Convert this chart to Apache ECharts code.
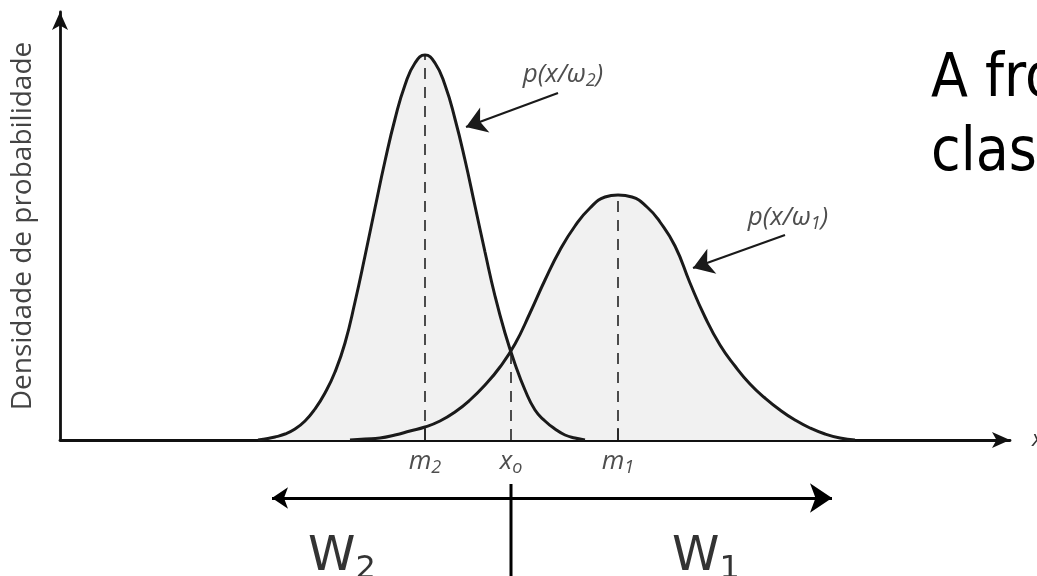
<!DOCTYPE html>
<html>
<head>
<meta charset="utf-8">
<script src="https://cdn.jsdelivr.net/npm/echarts@6/dist/echarts.min.js"></script>
<style>
  html, body { margin: 0; padding: 0; background: #fff; }
  #chart { width: 1037px; height: 576px; }
</style>
</head>
<body>
<div id="chart"></div>
<script>
// Class-conditional densities, [x, density] in axis units
const densityW2 = [[198,0],[205,1],[215,3],[225,6],[235,11],[245,19],[255,31],[265,47],[275,68],[285,97],[295,138],[305,184],[315,232],[325,279],[335,321],[345,355],[355,377],[365,385],[375,377],[385,355],[395,321],[405,280],[415,234],[425,188],[435,144],[445,107],[455,76],[465,50],[475,30],[485,19],[495,11],[505,5],[515,2],[525,0]];
const densityW1 = [[290,0],[305,1],[320,2],[335,5],[350,9],[365,13],[380,19],[395,28],[410,40],[425,55],[440,73],[455,96],[470,127],[485,160],[500,190],[515,214],[530,232],[545,243],[558,245],[572,243],[587,233],[600,218],[615,194],[630,157],[645,123],[660,95],[675,74],[690,56],[705,42],[720,30],[735,20],[750,12],[765,6],[780,2],[795,0]];

// Means and decision threshold on the x axis
const markerLabels = ['{v|m}{s|2}', '{v|x}{s|o}', '{v|m}{s|1}'];
const markerX = [365, 451, 558];
const markerTop = [385, 90, 245];

// Curve annotations
const noteLabels = ['{v|p(x/ω}{s|2}{v|)}', '{v|p(x/ω}{s|1}{v|)}'];
const noteAt = [[503, 365], [728, 222]];
const noteFrom = [[498, 347], [725, 205]];
const noteTo = [[406, 313], [633, 172]];

// Decision regions below the axis
const regionLabels = ['{v|W}{s|2}', '{v|W}{s|1}'];
const regionX = [282, 646];
const regionSpan = [212, 772];
const boundaryX = 451;

const X_MAX = 950, Y_MAX = 428;
const ink = '#1a1a1a';

const italicRich = {
  v: { fontFamily: 'Open Sans', fontStyle: 'italic', fontSize: 26, color: '#222', lineHeight: 30 },
  s: { fontFamily: 'Open Sans', fontStyle: 'italic', fontSize: 18, color: '#222', lineHeight: 16, verticalAlign: 'bottom' }
};
const regionRich = {
  v: { fontFamily: 'DejaVu Sans', fontSize: 48, color: '#000', lineHeight: 56 },
  s: { fontFamily: 'DejaVu Sans', fontSize: 32, color: '#000', lineHeight: 30, verticalAlign: 'bottom' }
};

const series = [];

// shaded areas under both curves
[densityW2, densityW1].forEach(d => series.push({
  type: 'line', xAxisIndex: 0, yAxisIndex: 0, data: d, smooth: 0.5,
  symbol: 'none', lineStyle: { width: 0 }, areaStyle: { color: '#f1f1f1', opacity: 1 }, z: 1, silent: true
}));

// dashed verticals at m2, xo, m1 plus short solid ticks at the means
markerX.forEach((x, i) => {
  series.push({
    type: 'line', xAxisIndex: 0, yAxisIndex: 0, data: [[x, 0], [x, markerTop[i]]],
    symbol: 'none', lineStyle: { color: '#222', width: 1.6, type: [11, 8] }, z: 2, silent: true
  });
  if (i !== 1) series.push({
    type: 'line', xAxisIndex: 0, yAxisIndex: 0, data: [[x, 0], [x, 12]],
    symbol: 'none', lineStyle: { color: '#222', width: 1.6 }, z: 2, silent: true
  });
});

// curve outlines
[densityW2, densityW1].forEach(d => series.push({
  type: 'line', xAxisIndex: 0, yAxisIndex: 0, data: d, smooth: 0.5,
  symbol: 'none', lineStyle: { color: ink, width: 3 }, z: 3, silent: true
}));

// annotation arrows
series.push({
  type: 'lines', coordinateSystem: 'cartesian2d', xAxisIndex: 0, yAxisIndex: 0,
  data: noteFrom.map((p, i) => ({ coords: [p, noteTo[i]] })),
  symbol: ['none', 'arrow'], symbolSize: [13, 20],
  lineStyle: { color: ink, width: 2.2, opacity: 1 }, z: 4, silent: true
});
series.push({
  type: 'scatter', xAxisIndex: 0, yAxisIndex: 0, symbolSize: 1, itemStyle: { color: 'rgba(0,0,0,0)' },
  data: noteAt.map((p, i) => ({ value: p, label: { formatter: noteLabels[i] } })),
  label: { show: true, position: 'inside', rich: italicRich }, z: 4, silent: true
});

// axis labels under the x axis
series.push({
  type: 'scatter', xAxisIndex: 1, yAxisIndex: 1, symbolSize: 1, itemStyle: { color: 'rgba(0,0,0,0)' },
  data: markerX.map((x, i) => ({ value: [x, 22], label: { formatter: markerLabels[i] } })),
  label: { show: true, position: 'inside', rich: italicRich }, silent: true
});

// decision regions: double arrow, boundary, region names
series.push({
  type: 'lines', coordinateSystem: 'cartesian2d', xAxisIndex: 1, yAxisIndex: 1,
  data: [{ coords: [[regionSpan[0], 58], [regionSpan[1], 58]] }],
  symbol: ['arrow', 'arrow'], symbolSize: [16, 22],
  lineStyle: { color: '#000', width: 3, opacity: 1 }, silent: true
});
series.push({
  type: 'line', xAxisIndex: 1, yAxisIndex: 1, data: [[boundaryX, 44], [boundaryX, 136]],
  symbol: 'none', lineStyle: { color: '#000', width: 3 }, silent: true
});
series.push({
  type: 'scatter', xAxisIndex: 1, yAxisIndex: 1, symbolSize: 1, itemStyle: { color: 'rgba(0,0,0,0)' },
  data: regionX.map((x, i) => ({ value: [x, 118], label: { formatter: regionLabels[i] } })),
  label: { show: true, position: 'inside', rich: regionRich }, silent: true
});

const hidden = { show: false };
const option = {
  backgroundColor: '#fff',
  animation: false,
  title: {
    text: 'A fronteira entre as\nclasses',
    left: 926, top: 38,
    textStyle: { fontFamily: 'DejaVu Sans Condensed', fontSize: 60, fontWeight: 'normal', color: '#000', lineHeight: 74 }
  },
  grid: [
    { left: 60, right: 27, top: 12, bottom: 136, outerBoundsMode: 'none' },
    { left: 60, right: 27, top: 440, bottom: 0, outerBoundsMode: 'none' }
  ],
  xAxis: [
    {
      gridIndex: 0, type: 'value', min: 0, max: X_MAX,
      axisLine: { show: true, symbol: ['none', 'arrow'], symbolSize: [12, 18], lineStyle: { color: '#111', width: 2.8 } },
      axisTick: hidden, axisLabel: hidden, splitLine: hidden,
      name: 'x', nameGap: 22,
      nameTextStyle: { fontFamily: 'Open Sans', fontStyle: 'italic', fontSize: 22, color: '#333' }
    },
    { gridIndex: 1, type: 'value', min: 0, max: X_MAX, show: false }
  ],
  yAxis: [
    {
      gridIndex: 0, type: 'value', min: 0, max: Y_MAX,
      axisLine: { show: true, symbol: ['none', 'arrow'], symbolSize: [12, 18], lineStyle: { color: '#111', width: 2.8 } },
      axisTick: hidden, axisLabel: hidden, splitLine: hidden,
      name: 'Densidade de probabilidade', nameLocation: 'middle', nameRotate: 90, nameGap: 23,
      nameTextStyle: { fontFamily: 'Open Sans', fontSize: 28, color: '#444' }
    },
    { gridIndex: 1, type: 'value', min: 0, max: 136, inverse: true, show: false }
  ],
  series: series
};

const chart = echarts.init(document.getElementById('chart'), null, { renderer: 'canvas' });
chart.setOption(option);
</script>
</body>
</html>
